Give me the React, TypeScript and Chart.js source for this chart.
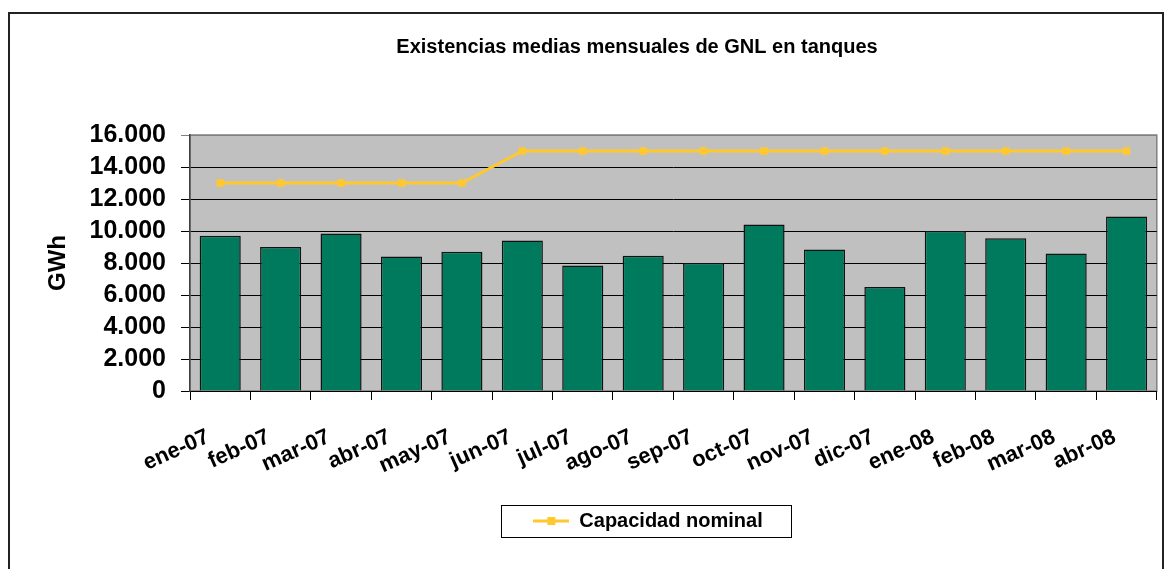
import React, { useEffect, useRef } from 'react';
import { Chart, registerables } from 'chart.js';

Chart.register(...registerables);

// ---- data ----
const categories = [
  'ene-07', 'feb-07', 'mar-07', 'abr-07', 'may-07', 'jun-07', 'jul-07', 'ago-07',
  'sep-07', 'oct-07', 'nov-07', 'dic-07', 'ene-08', 'feb-08', 'mar-08', 'abr-08',
];
const existencias = [
  9700, 9000, 9850, 8400, 8700, 9400, 7850, 8450,
  8000, 10400, 8850, 6500, 10000, 9550, 8600, 10900,
];
const capacidadNominal = [
  13000, 13000, 13000, 13000, 13000, 15000, 15000, 15000,
  15000, 15000, 15000, 15000, 15000, 15000, 15000, 15000,
];
const yTickValues = [0, 2000, 4000, 6000, 8000, 10000, 12000, 14000, 16000];
const yTickLabels = ['0', '2.000', '4.000', '6.000', '8.000', '10.000', '12.000', '14.000', '16.000'];

const titleText = 'Existencias medias mensuales de GNL en tanques';
const yAxisTitle = 'GWh';
const lineLabel = 'Capacidad nominal';
const barLabel = 'Existencias medias';

// ---- styles ----
const FONT = '"Liberation Sans", Arial, Helvetica, sans-serif';
const GREEN = '#007A5C';
const GOLD = '#FFC82E';
const PLOT_BG = '#C0C0C0';
const PLOT_BORDER = '#808080';
const TITLE_SHIFT = 52;
const LEGEND_SHIFT = 63;

export default function App() {
  const canvasRef = useRef<HTMLCanvasElement>(null);

  useEffect(() => {
    const canvas = canvasRef.current;
    if (!canvas) return;

    // legend icon: line with square marker
    const icon = document.createElement('canvas');
    icon.width = 36;
    icon.height = 10;
    const ic = icon.getContext('2d');
    if (ic) {
      ic.strokeStyle = GOLD;
      ic.lineWidth = 3;
      ic.beginPath();
      ic.moveTo(0, 5);
      ic.lineTo(36, 5);
      ic.stroke();
      ic.fillStyle = GOLD;
      ic.fillRect(14, 1, 8, 8);
    }

    const framePlugin = {
      id: 'excelFrame',
      beforeDraw(chart: any) {
        const { ctx, chartArea } = chart;
        if (!chartArea) return;
        ctx.save();
        ctx.fillStyle = PLOT_BG;
        ctx.fillRect(chartArea.left, chartArea.top, chartArea.right - chartArea.left, chartArea.bottom - chartArea.top);
        ctx.strokeStyle = PLOT_BORDER;
        ctx.lineWidth = 1.5;
        ctx.strokeRect(chartArea.left, chartArea.top, chartArea.right - chartArea.left, chartArea.bottom - chartArea.top);
        ctx.restore();
      },
      afterLayout(chart: any) {
        const t = chart.titleBlock;
        if (t) {
          t.left += TITLE_SHIFT;
          t.right += TITLE_SHIFT;
        }
        const l = chart.legend;
        if (l) {
          l.left += LEGEND_SHIFT;
          l.right += LEGEND_SHIFT;
        }
      },
      afterDraw(chart: any) {
        const l = chart.legend;
        if (!l || !l.legendHitBoxes || !l.legendHitBoxes.length) return;
        const hb = l.legendHitBoxes[0];
        const ctx = chart.ctx;
        ctx.save();
        ctx.strokeStyle = '#000';
        ctx.lineWidth = 1;
        const x0 = Math.round(hb.left - 32) + 0.5;
        const y0 = Math.round(hb.top - 6) + 0.5;
        const w = Math.round(hb.width + 61);
        const h = Math.round(hb.height + 12);
        ctx.strokeRect(x0, y0, w, h);
        ctx.restore();
      },
    };

    const chart = new Chart(canvas, {
      type: 'bar',
      data: {
        labels: categories,
        datasets: [
          {
            type: 'line',
            label: lineLabel,
            data: capacidadNominal,
            borderColor: GOLD,
            backgroundColor: GOLD,
            borderWidth: 2.8,
            pointStyle: 'rect',
            pointRadius: 5.2,
            pointBorderWidth: 0,
            pointBackgroundColor: GOLD,
            tension: 0,
            fill: false,
            order: 0,
          } as any,
          {
            type: 'bar',
            label: barLabel,
            data: existencias,
            backgroundColor: GREEN,
            borderColor: '#111',
            borderWidth: 1.5,
            barPercentage: 0.68,
            categoryPercentage: 1.0,
            order: 1,
          } as any,
        ],
      },
      options: {
        responsive: true,
        maintainAspectRatio: false,
        animation: false,
        layout: { padding: { left: 0, right: 2, top: 0, bottom: 28 } },
        plugins: {
          title: {
            display: true,
            text: titleText,
            color: '#000',
            font: { family: FONT, size: 20, weight: 'bold' },
            padding: { top: 21, bottom: 76 },
          },
          legend: {
            display: true,
            position: 'bottom',
            labels: {
              usePointStyle: true,
              pointStyle: icon as any,
              pointStyleWidth: 36,
              color: '#000',
              font: { family: FONT, size: 20, weight: 'bold' },
              padding: 10,
              filter: (item: any) => item.datasetIndex === 0,
            },
          },
          tooltip: { enabled: false },
        },
        scales: {
          x: {
            type: 'category',
            offset: true,
            grid: {
              offset: true,
              drawOnChartArea: false,
              drawTicks: true,
              tickLength: 9,
              color: '#000',
            },
            border: { color: '#000', width: 1 },
            ticks: {
              color: '#000',
              font: { family: FONT, size: 22, weight: 'bold' },
              minRotation: 24,
              maxRotation: 24,
              autoSkip: false,
              padding: 24,
              labelOffset: -12,
            },
            afterFit: (s: any) => {
              s.height = 110;
            },
          },
          y: {
            min: 0,
            max: 16000,
            ticks: {
              stepSize: 2000,
              autoSkip: false,
              padding: 15,
              color: '#000',
              font: { family: FONT, size: 25, weight: 'bold' },
              callback: (v: any) => {
                const i = yTickValues.indexOf(Number(v));
                return i >= 0 ? yTickLabels[i] : '';
              },
            },
            grid: {
              color: (c: any) => (c.tick && c.tick.value === 16000 ? PLOT_BORDER : '#000'),
              tickLength: 9,
              lineWidth: 1,
            },
            border: { color: '#404040', width: 1.5 },
            title: {
              display: true,
              text: yAxisTitle,
              color: '#000',
              font: { family: FONT, size: 24, weight: 'bold' },
              padding: { top: 34, bottom: 0 },
            },
            afterFit: (s: any) => {
              s.width = 180;
            },
          },
        },
      } as any,
      plugins: [framePlugin],
    });

    return () => {
      chart.destroy();
    };
  }, []);

  return (
    <div
      style={{
        position: 'fixed',
        left: 8,
        top: 12,
        width: 1156,
        height: 557,
        boxSizing: 'border-box',
        borderLeft: '2px solid #222',
        borderTop: '2px solid #222',
        borderRight: '2px solid #222',
        background: '#fff',
      }}
    >
      <div style={{ position: 'absolute', left: 0, top: 0, width: 1152, height: 555 }}>
        <canvas ref={canvasRef} />
      </div>
    </div>
  );
}
